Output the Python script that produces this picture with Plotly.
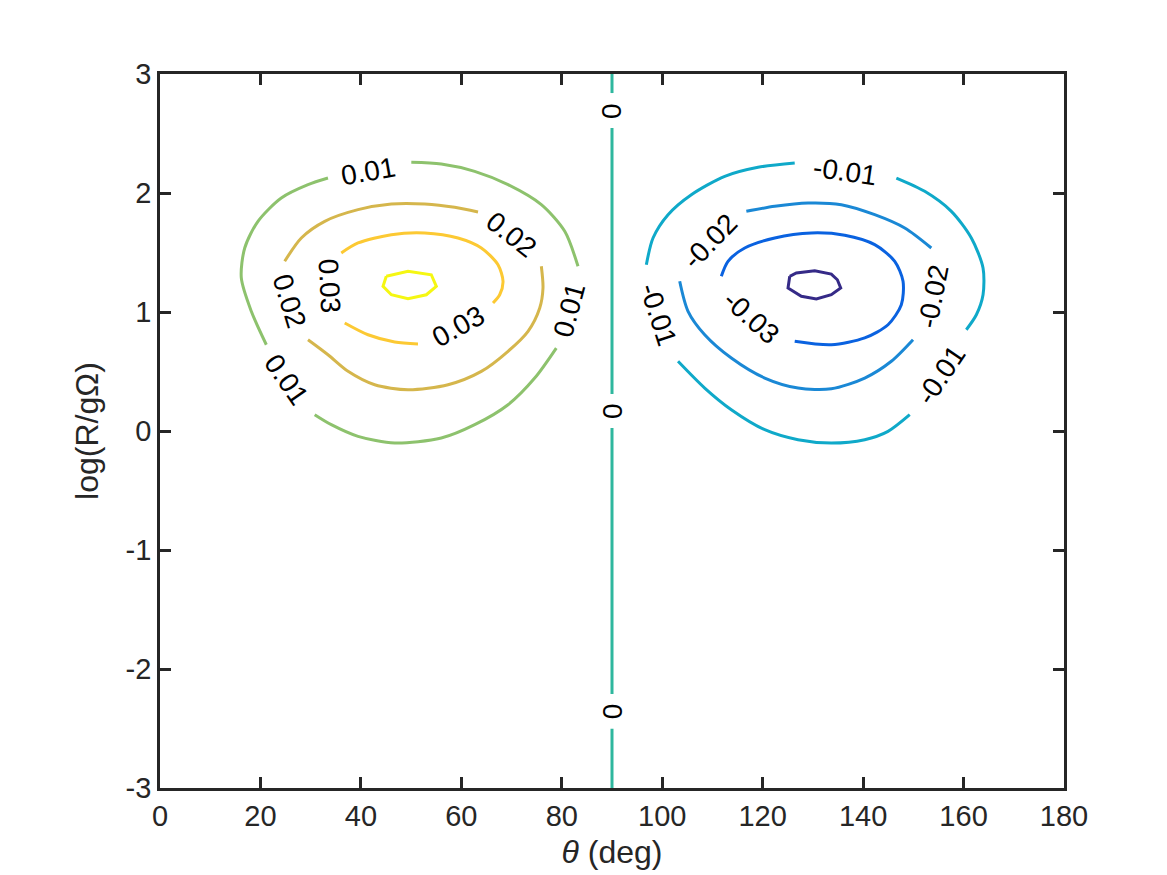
import plotly.graph_objects as go

# ---- contour paths (theta in deg, log(R/gOmega)); None = break for a label ----
theta_p04 = [45.06, 49.38, 54.02, 55.02, 53.03, 49.38, 46.06, 44.41, 45.06]
logr_p04 = [1.300, 1.342, 1.313, 1.216, 1.145, 1.112, 1.145, 1.216, 1.300]

theta_p03 = [36.10, 39.43, 46.06, 52.71, 59.34, 63.98, 67.30, 68.30, 67.64, 66.31, None,
             51.37, 46.73, 41.42, 36.78]
logr_p03 = [1.496, 1.580, 1.650, 1.664, 1.622, 1.538, 1.397, 1.258, 1.145, 1.076, None,
            0.731, 0.748, 0.809, 0.908]

theta_p02 = [24.83, 28.14, 32.80, 39.43, 46.06, 52.71, 58.68, 63.32, None,
             75.93, 76.26, 75.61, 73.28, 69.30, 63.98, 57.35, 49.38, 42.75, 37.44, 33.45, 29.47]
logr_p02 = [1.426, 1.622, 1.762, 1.860, 1.908, 1.908, 1.880, 1.840, None,
            1.384, 1.202, 1.034, 0.838, 0.670, 0.501, 0.389, 0.347, 0.389, 0.502, 0.641, 0.767]

theta_p01 = [50.04, 56.01, 62.66, 69.30, 75.93, 80.59, 83.23, None,
             78.91, 74.61, 69.30, 62.66, 56.01, 46.73, 39.43, 34.11, 30.80, None,
             21.17, 18.18, 16.19, 16.87, 19.51, 24.15, 29.47, 33.45]
logr_p01 = [2.258, 2.244, 2.182, 2.070, 1.902, 1.678, 1.384, None,
            0.697, 0.445, 0.221, 0.053, -0.059, -0.101, -0.045, 0.053, 0.137, None,
            0.725, 1.006, 1.286, 1.538, 1.762, 1.958, 2.070, 2.126]

theta_0 = [90, 90, None, 90, 90, None, 90, 90, None, 90, 90]
logr_0 = [3.0, 2.84, None, 2.546, 0.311, None, 0.025, -2.21, None, -2.502, -3.0]

theta_m01 = [96.84, 98.17, 101.16, 105.80, 112.45, 119.08, 126.38, None,
             146.62, 152.27, 157.57, 161.55, 163.88, 163.88, 162.55, 160.55, None,
             149.28, 144.96, 140.32, 133.67, 127.04, 120.41, 113.76, 108.46, 103.15]
logr_m01 = [1.397, 1.622, 1.818, 1.986, 2.140, 2.216, 2.252, None,
            2.126, 2.014, 1.846, 1.622, 1.370, 1.145, 0.977, 0.851, None,
            0.137, -0.003, -0.073, -0.101, -0.073, 0.011, 0.179, 0.361, 0.586]

theta_m02 = [116.75, 122.40, 129.03, 135.66, 142.31, 148.29, 153.58, None,
             149.94, 145.62, 140.32, 133.67, 127.04, 120.41, 113.76, 108.46, 105.14, 103.48]
logr_m02 = [1.846, 1.888, 1.916, 1.902, 1.818, 1.706, 1.538, None,
            0.767, 0.586, 0.445, 0.355, 0.361, 0.445, 0.613, 0.809, 1.006, 1.258]

theta_m03 = [111.77, 113.10, 116.43, 122.40, 129.69, 136.34, 142.31, 146.30, 147.95,
             147.61, 144.96, 140.32, 133.67, 126.38]
logr_m03 = [1.300, 1.426, 1.538, 1.622, 1.664, 1.645, 1.566, 1.426, 1.258,
            1.061, 0.893, 0.782, 0.725, 0.754]

theta_m04 = [125.39, 126.70, 130.37, 133.67, 134.87, 135.54, 133.67, 130.69, 127.70, 125.05, 125.39]
logr_m04 = [1.300, 1.328, 1.347, 1.319, 1.271, 1.202, 1.145, 1.109, 1.132, 1.202, 1.300]

# ---- contour labels ----
label_text = ["0.01", "0.02", "0.01", "0.01", "0.02", "0.03", "0.03",
              "0", "0", "0",
              "-0.01", "-0.02", "-0.02", "-0.01", "-0.03", "-0.01"]
label_theta = [41.42, 69.95, 81.58, 25.15, 25.82, 33.79, 59.34,
               90.0, 90.0, 90.0,
               136.34, 109.46, 153.92, 155.58, 117.74, 99.16]
label_logr = [2.182, 1.650, 1.019, 0.431, 1.090, 1.216, 0.880,
              2.69, 0.168, -2.356,
              2.182, 1.594, 1.132, 0.473, 0.950, 0.977]
label_angle = [-10, 38, -75, 55, 73, 87, -29,
               -90, -90, -90,
               8, -46, -79, -56, 42, 72]

x_ticks = [0, 20, 40, 60, 80, 100, 120, 140, 160, 180]
y_ticks = [-3, -2, -1, 0, 1, 2, 3]

paths = [
    (theta_m04, logr_m04, "#352A87", "linear"),
    (theta_m03, logr_m03, "#0A62E0", "spline"),
    (theta_m02, logr_m02, "#1A88D5", "spline"),
    (theta_m01, logr_m01, "#0FA9C9", "spline"),
    (theta_0, logr_0, "#2EB79E", "linear"),
    (theta_p01, logr_p01, "#8DC26D", "spline"),
    (theta_p02, logr_p02, "#D5B64C", "spline"),
    (theta_p03, logr_p03, "#FCC933", "spline"),
    (theta_p04, logr_p04, "#F5F712", "linear"),
]

FONT = "Liberation Sans, Arial, Helvetica, sans-serif"
fig = go.Figure()
for xs, ys, col, shape in paths:
    line = dict(color=col, width=3, shape=shape)
    if shape == "spline":
        line["smoothing"] = 0.8
    fig.add_trace(go.Scatter(x=xs, y=ys, mode="lines", line=line,
                             connectgaps=False, hoverinfo="skip", showlegend=False))

for t, x, y, a in zip(label_text, label_theta, label_logr, label_angle):
    fig.add_annotation(x=x, y=y, text=t, textangle=a, showarrow=False,
                       font=dict(family=FONT, size=28, color="black"),
                       xanchor="center", yanchor="middle")

axis_common = dict(showgrid=False, zeroline=False, showline=True, linecolor="#262626",
                   linewidth=2.8, mirror="ticks", ticks="inside", ticklen=11, tickwidth=2.8,
                   tickcolor="#262626", tickfont=dict(family=FONT, size=29, color="#262626"))

fig.update_xaxes(range=[0, 180], tickvals=x_ticks, ticktext=[str(v) for v in x_ticks],
                 title=dict(text="<i>θ</i> (deg)", font=dict(family=FONT, size=32, color="#262626"),
                            standoff=10), **axis_common)
fig.update_yaxes(range=[-3, 3], tickvals=y_ticks, ticktext=[str(v) for v in y_ticks],
                 title=dict(text="log(R/gΩ)", font=dict(family=FONT, size=32, color="#262626"),
                            standoff=18), **axis_common)

fig.update_layout(width=1167, height=875, plot_bgcolor="white", paper_bgcolor="white",
                  margin=dict(l=152, r=111, t=66, b=95), showlegend=False)

fig.write_html("out.html")
